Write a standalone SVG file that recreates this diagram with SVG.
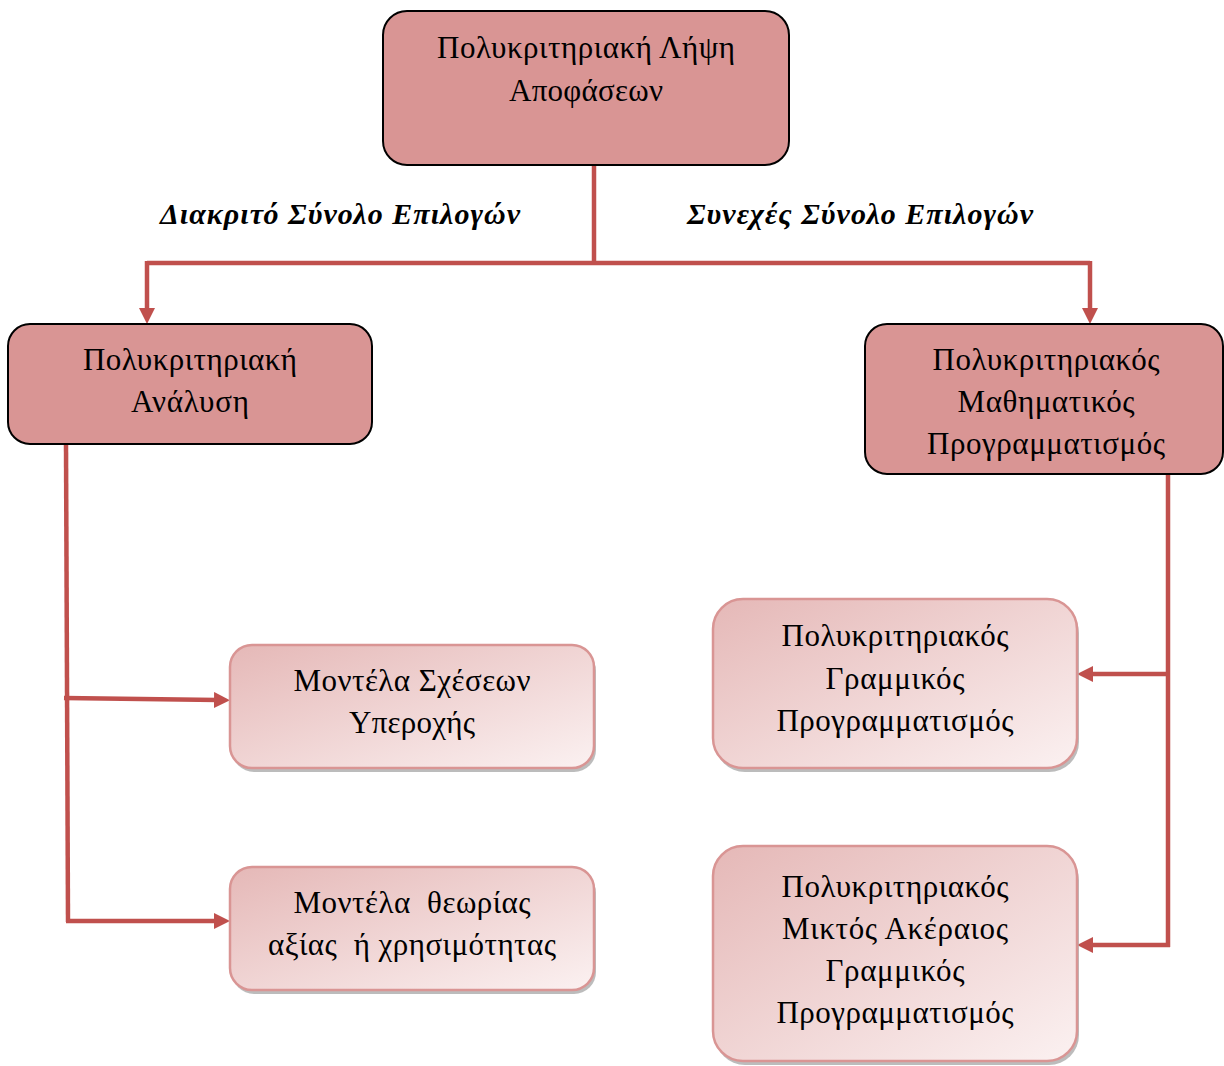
<svg xmlns="http://www.w3.org/2000/svg" width="1224" height="1066" viewBox="0 0 1224 1066">
  <style>
    .main { fill: #d99594; stroke: #000; stroke-width: 2; }
    .sub { fill: url(#subFill); stroke: #d99594; stroke-width: 2.5; }
    .shadow { fill: #a5a5a5; opacity: 0.75; }
    .t { font-family: "Liberation Serif", "Times New Roman", serif; font-size: 31px; fill: #000; text-anchor: middle; }
    .lbl { font-family: "Liberation Serif", "Times New Roman", serif; font-size: 30px; font-weight: bold; font-style: italic; fill: #000; }
    .conn { fill: none; stroke: #c0504d; stroke-width: 4.5; }
  </style>
  <defs>
    <linearGradient id="subFill" x1="0" y1="0" x2="1" y2="1">
      <stop offset="0" stop-color="#e5b8b7"/>
      <stop offset="1" stop-color="#fbf1f1"/>
    </linearGradient>
    <marker id="arrow" markerUnits="userSpaceOnUse" markerWidth="16" markerHeight="16" viewBox="0 0 16 16" refX="4" refY="8" orient="auto">
      <path d="M0,0 L16,8 L0,16 z" fill="#c0504d"/>
    </marker>
  </defs>

  <rect width="1224" height="1066" fill="#fff"/>

  <!-- connectors -->
  <g id="connectors">
    <path class="conn" d="M594,165 V263"/>
    <path class="conn" d="M147,263 H1090"/>
    <path class="conn" d="M147,261 V312" marker-end="url(#arrow)"/>
    <path class="conn" d="M1090,261 V312" marker-end="url(#arrow)"/>
    <path class="conn" d="M66,444 L68,922"/>
    <path class="conn" d="M64,698 L218,700" marker-end="url(#arrow)"/>
    <path class="conn" d="M66,921 H218" marker-end="url(#arrow)"/>
    <path class="conn" d="M1168,474 V947"/>
    <path class="conn" d="M1170,674 H1089" marker-end="url(#arrow)"/>
    <path class="conn" d="M1170,945 H1089" marker-end="url(#arrow)"/>
  </g>

  <!-- root -->
  <g id="node-root">
    <rect class="main" x="383" y="11" width="406" height="154" rx="24"/>
    <text class="t" x="586" y="58" textLength="298">Πολυκριτηριακή Λήψη</text>
    <text class="t" x="586" y="101" textLength="154">Αποφάσεων</text>
  </g>

  <!-- edge labels -->
  <g id="labels">
    <text class="lbl" x="160" y="224" textLength="360">Διακριτό Σύνολο Επιλογών</text>
    <text class="lbl" x="687" y="224" textLength="346">Συνεχές Σύνολο Επιλογών</text>
  </g>

  <!-- first level -->
  <g id="node-analysis">
    <rect class="main" x="8" y="324" width="364" height="120" rx="22"/>
    <text class="t" x="190" y="370" textLength="214">Πολυκριτηριακή</text>
    <text class="t" x="190" y="412" textLength="118">Ανάλυση</text>
  </g>

  <g id="node-math">
    <rect class="main" x="865" y="324" width="358" height="150" rx="22"/>
    <text class="t" x="1046" y="370" textLength="227">Πολυκριτηριακός</text>
    <text class="t" x="1046" y="412" textLength="177">Μαθηματικός</text>
    <text class="t" x="1046" y="454" textLength="238">Προγραμματισμός</text>
  </g>

  <!-- second level, left -->
  <g id="node-outranking">
    <rect class="shadow" x="232" y="649" width="364" height="123" rx="22"/>
    <rect class="sub" x="230" y="645" width="364" height="123" rx="22"/>
    <text class="t" x="412" y="691" textLength="237">Μοντέλα Σχέσεων</text>
    <text class="t" x="412" y="733" textLength="126">Υπεροχής</text>
  </g>

  <g id="node-utility">
    <rect class="shadow" x="232" y="871" width="364" height="123" rx="22"/>
    <rect class="sub" x="230" y="867" width="364" height="123" rx="22"/>
    <text class="t" x="412" y="913" textLength="237" xml:space="preserve">Μοντέλα  θεωρίας</text>
    <text class="t" x="412" y="955" textLength="288" xml:space="preserve">αξίας  ή χρησιμότητας</text>
  </g>

  <!-- second level, right -->
  <g id="node-linear">
    <rect class="shadow" x="715" y="603" width="364" height="169" rx="30"/>
    <rect class="sub" x="713" y="599" width="364" height="169" rx="30"/>
    <text class="t" x="895" y="646" textLength="227">Πολυκριτηριακός</text>
    <text class="t" x="895" y="689" textLength="139">Γραμμικός</text>
    <text class="t" x="895" y="731" textLength="237">Προγραμματισμός</text>
  </g>

  <g id="node-mixed">
    <rect class="shadow" x="715" y="850" width="364" height="215" rx="30"/>
    <rect class="sub" x="713" y="846" width="364" height="215" rx="30"/>
    <text class="t" x="895" y="897" textLength="227">Πολυκριτηριακός</text>
    <text class="t" x="895" y="939" textLength="226">Μικτός Ακέραιος</text>
    <text class="t" x="895" y="981" textLength="139">Γραμμικός</text>
    <text class="t" x="895" y="1023" textLength="237">Προγραμματισμός</text>
  </g>
</svg>
